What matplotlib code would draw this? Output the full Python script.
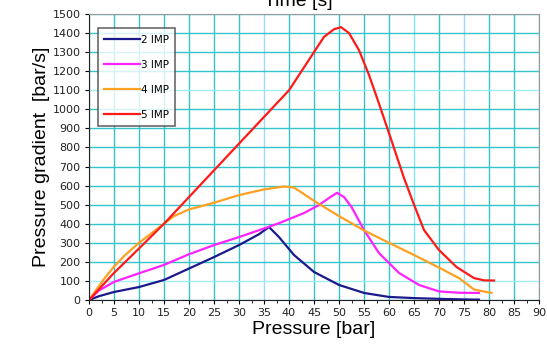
import numpy as np
import matplotlib
matplotlib.use('Agg')
from matplotlib import pyplot as plt
from matplotlib.ticker import MultipleLocator

# 2 IMP
p2 = [0, 2, 5, 10, 15, 20, 25, 30, 34, 36, 38, 41, 45, 50, 55, 60, 65, 70, 75, 78]
g2 = [0, 20, 42, 68, 105, 165, 225, 288, 345, 383, 330, 236, 147, 79, 37, 16, 10, 6, 3, 2]
# 3 IMP
p3 = [0, 2, 5, 10, 15, 20, 25, 30, 35, 38, 43, 46, 48, 49.6, 51, 52.5, 55, 58, 62, 66, 70, 74, 78]
g3 = [0, 50, 95, 140, 184, 240, 288, 330, 375, 403, 456, 498, 535, 562, 540, 488, 367, 246, 142, 79, 45, 38, 37]
# 4 IMP
p4 = [0, 3, 5, 7, 10, 13, 15, 17, 20, 25, 30, 35, 39, 41, 45, 50, 55, 60, 65, 70, 74, 77, 80.5]
g4 = [0, 110, 175, 230, 300, 360, 400, 440, 475, 510, 550, 580, 595, 590, 520, 440, 365, 300, 236, 170, 115, 55, 37]
# 5 IMP
p5 = [0, 5, 10, 15, 20, 25, 30, 35, 40, 42, 44, 45, 47, 49, 50.4, 52, 54, 56, 58, 60, 63, 65, 67, 70, 73.5, 77, 79, 81]
g5 = [0, 142, 270, 400, 540, 680, 820, 960, 1100, 1180, 1260, 1300, 1380, 1420, 1431, 1400, 1310, 1180, 1030, 875, 640, 500, 367, 262, 173, 115, 103, 102]

series = [(p2, g2, '#1a1a8c', '2 IMP'),
          (p3, g3, '#ff22ff', '3 IMP'),
          (p4, g4, '#ffa020', '4 IMP'),
          (p5, g5, '#ff1a1a', '5 IMP')]

fig = plt.figure(figsize=(5.47, 3.56), dpi=100)
ax = fig.add_axes([89 / 547, 56 / 356, 450 / 547, 286 / 356])

for x, y, c, lab in series:
    ax.plot(x, y, color=c, lw=1.6, label=lab)

ax.set_xlim(0, 90)
ax.set_ylim(0, 1500)
ax.xaxis.set_major_locator(MultipleLocator(5))
ax.xaxis.set_minor_locator(MultipleLocator(2.5))
ax.yaxis.set_major_locator(MultipleLocator(100))
ax.grid(True, which='major', color='#33c4cc', lw=1.0)
ax.set_axisbelow(True)
for i, gl in enumerate(ax.get_xgridlines()):
    if i in (8, 16):
        gl.set_color('#a0d8f8')
    elif i == 14:
        gl.set_color('#80e8f0')
for i, gl in enumerate(ax.get_ygridlines()):
    if i in (2, 12):
        gl.set_color('#a0eef8')

ax.tick_params(axis='both', which='major', labelsize=8, length=3, color='black',
               pad=3, labelcolor='#222222')
ax.tick_params(axis='x', which='minor', length=2)
for s in ('top', 'right'):
    ax.spines[s].set_color('#999999')
ax.spines['left'].set_color('#222222')
ax.spines['bottom'].set_color('#222222')

ax.set_xlabel('Pressure [bar]', fontsize=14, family='Liberation Sans', labelpad=2)
ax.set_ylabel('Pressure gradient  [bar/s]', fontsize=14, family='Liberation Sans', labelpad=2)
fig.text(0.545, 0.983, 'Time [s]', fontsize=14, family='Liberation Sans',
         ha='center', va='baseline')

leg = ax.legend(loc='upper left', bbox_to_anchor=(0.02, 0.95), fontsize=7.5,
                frameon=True, fancybox=False, edgecolor='#444444', handlelength=3.4,
                handletextpad=0.1, labelspacing=1.45, borderpad=0.6, borderaxespad=0)
leg.get_frame().set_linewidth(1.2)

fig.savefig('out.png', dpi=100)
